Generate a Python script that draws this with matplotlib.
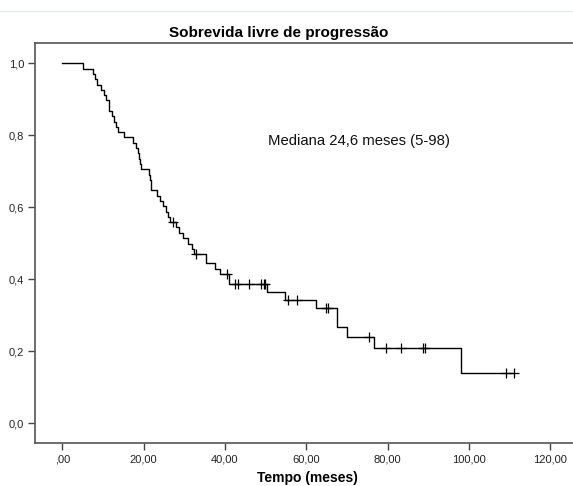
import numpy as np
import matplotlib
matplotlib.use("Agg")
import matplotlib.pyplot as plt
from matplotlib.lines import Line2D

plt.rcParams.update({
    "font.family": ["Liberation Sans", "DejaVu Sans"],
    "font.size": 8,
})

# Kaplan-Meier: tempos de evento (meses) e sobrevida após cada evento
tempos_evento = [5.1, 7.6, 8.1, 8.6, 9.6, 10.3, 10.8, 11.4, 11.6, 12.2, 12.7, 13.3,
                 13.7, 15.2, 17.4, 18.1, 18.6, 18.9, 19.1, 19.4, 21.4, 21.5, 21.7,
                 21.9, 23.4, 24.0, 24.7, 25.5, 26.1, 26.5, 28.0, 28.8, 29.6, 31.0,
                 31.8, 32.4, 35.3, 37.6, 38.8, 41.0, 50.4, 54.8, 62.4, 67.5, 70.0,
                 76.7, 98.1]
sobrevida = [0.985, 0.971, 0.956, 0.941, 0.926, 0.912, 0.897, 0.882, 0.868, 0.853,
             0.838, 0.824, 0.809, 0.794, 0.779, 0.765, 0.750, 0.735, 0.721, 0.706,
             0.691, 0.676, 0.662, 0.647, 0.632, 0.618, 0.603, 0.588, 0.574, 0.559,
             0.544, 0.529, 0.514, 0.499, 0.484, 0.469, 0.444, 0.429, 0.414, 0.386,
             0.366, 0.343, 0.321, 0.268, 0.241, 0.210, 0.140]

# tempos censurados
tempos_censura = [27.2, 32.8, 40.4, 42.5, 43.1, 45.9, 49.0, 49.5, 49.9, 55.4, 57.8,
                  64.8, 65.3, 75.5, 79.6, 83.2, 88.7, 89.2, 109.1, 111.1]

xticks = [0, 20, 40, 60, 80, 100, 120]
xtick_labels = [",00", "20,00", "40,00", "60,00", "80,00", "100,00", "120,00"]
yticks = [0.0, 0.2, 0.4, 0.6, 0.8, 1.0]
ytick_labels = ["0,0", "0,2", "0,4", "0,6", "0,8", "1,0"]

W, H = 573, 486
fig = plt.figure(figsize=(W / 100, H / 100), dpi=100)
ax = fig.add_axes([35.3 / W, 42.7 / H, (W - 35.3) / W, 400.6 / H])

# curva em degraus
t = np.array([0.0] + tempos_evento + [max(tempos_censura)])
s = np.array([1.0] + sobrevida + [sobrevida[-1]])
ax.step(t, s, where="post", color="black", lw=1.0)

# marcas de censura sobre a curva
tc = np.array(tempos_censura)
idx = np.searchsorted(t, tc, side="right") - 1
ax.plot(tc, s[idx], linestyle="None", marker="+", markersize=7,
        markeredgewidth=0.9, color="black")

ax.set_xlim(-6.64, 125.63)
ax.set_ylim(-0.0556, 1.0572)
ax.set_xticks(xticks)
ax.set_xticklabels(xtick_labels)
ax.set_yticks(yticks)
ax.set_yticklabels(ytick_labels)
ax.tick_params(direction="out", length=5, width=1, color="#444444",
               labelsize=8, pad=3, labelcolor="#222222")

for side in ["left", "top", "bottom"]:
    ax.spines[side].set_color("#555555")
    ax.spines[side].set_linewidth(1.2)
ax.spines["right"].set_visible(False)

ax.text(50.6, 0.785, "Mediana 24,6 meses (5-98)", fontsize=10.7,
        ha="left", va="center", color="#111111")

fig.text(279 / W, 1 - 33 / H, "Sobrevida livre de progressão", fontsize=11,
         fontweight="bold", ha="center", va="center")
fig.text(307 / W, 1 - 482 / H, "Tempo (meses)", fontsize=10,
         fontweight="bold", ha="center", va="baseline")

# linha fina do cabeçalho
fig.add_artist(Line2D([0, 1], [1 - 11 / H] * 2, color="#e4e9ef", lw=1))

fig.savefig("out.png", dpi=100)
